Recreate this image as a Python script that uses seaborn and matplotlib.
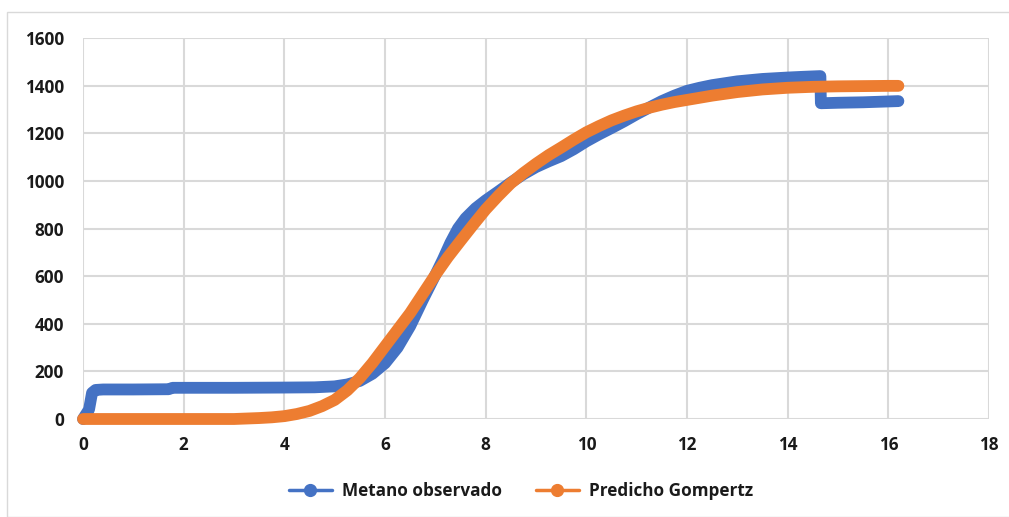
import matplotlib
matplotlib.use("Agg")
import matplotlib.pyplot as plt
from matplotlib.lines import Line2D
from matplotlib.patches import Rectangle
import seaborn as sns
import pandas as pd

# Observed methane (Metano observado)
obs_x = [0, 0.12, 0.18, 0.25, 0.4, 1.0, 1.7, 1.78, 3.0, 4.0, 4.6, 5.0, 5.25, 5.5, 5.75,
         6.0, 6.25, 6.5, 6.75, 7.0, 7.15, 7.3, 7.45, 7.6, 7.8, 8.0, 8.25, 8.5, 8.75, 9.0,
         9.25, 9.5, 9.75, 10.0, 10.25, 10.5, 10.75, 11.0, 11.25, 11.5, 11.75, 12.0,
         12.25, 12.5, 12.75, 13.0, 13.5, 14.0, 14.3, 14.65, 14.66, 15.0, 15.5, 16.2]
obs_y = [0, 40, 110, 122, 124, 124, 125, 131, 131, 132, 133, 137, 145, 160, 190,
         234, 300, 390, 500, 605, 670, 740, 800, 843, 885, 918, 955, 993, 1028, 1058,
         1082, 1104, 1133, 1166, 1195, 1222, 1250, 1280, 1308, 1335, 1358, 1378,
         1391, 1402, 1410, 1418, 1428, 1434, 1437, 1440, 1326, 1328, 1330, 1335]

# Gompertz prediction (Predicho Gompertz)
pred_x = [0, 1, 2, 3, 3.25, 3.5, 3.75, 4, 4.25, 4.5, 4.75, 5, 5.25, 5.5, 5.75, 6, 6.25,
          6.5, 6.75, 7, 7.25, 7.5, 7.75, 8, 8.25, 8.5, 8.75, 9, 9.25, 9.5, 9.75, 10,
          10.25, 10.5, 10.75, 11, 11.25, 11.5, 11.75, 12, 12.5, 13, 13.5, 14, 14.5, 15,
          15.5, 16, 16.2]
pred_y = [0, 0, 0, 0, 2, 4, 7, 12, 21, 34, 54, 80, 120, 172, 235, 305, 375,
          445, 525, 605, 680, 748, 815, 880, 937, 990, 1033, 1072, 1108, 1140, 1173, 1204,
          1230, 1254, 1274, 1292, 1307, 1320, 1331, 1340, 1358, 1373, 1384, 1391, 1395, 1397,
          1398, 1399, 1399]

x_ticks = [0, 2, 4, 6, 8, 10, 12, 14, 16, 18]
y_ticks = [0, 200, 400, 600, 800, 1000, 1200, 1400, 1600]

label_obs = "Metano observado"
label_pred = "Predicho Gompertz"
c_obs = "#4472C4"
c_pred = "#ED7D31"

sns.set_theme(style="white")
plt.rcParams['font.family'] = ['Open Sans', 'DejaVu Sans']

W, H = 1009, 517
fig = plt.figure(figsize=(W / 100, H / 100), dpi=100)
ax = fig.add_axes([83 / W, (H - 419) / H, (989 - 83) / W, (419 - 38) / H])

df_obs = pd.DataFrame({"x": obs_x, "y": obs_y})
df_pred = pd.DataFrame({"x": pred_x, "y": pred_y})

lw = 8.5
sns.lineplot(data=df_obs, x="x", y="y", ax=ax, color=c_obs, linewidth=lw,
             sort=False, estimator=None, solid_capstyle="round",
             solid_joinstyle="round", legend=False, zorder=3)
sns.lineplot(data=df_pred, x="x", y="y", ax=ax, color=c_pred, linewidth=lw,
             sort=False, estimator=None, solid_capstyle="round",
             solid_joinstyle="round", legend=False, zorder=4)

fs = 12.3
ax.set_xlim(0, 18)
ax.set_ylim(0, 1600)
ax.set_xticks(x_ticks)
ax.set_yticks(y_ticks)
ax.set_xticklabels([str(t) for t in x_ticks], fontsize=fs, fontweight="bold", color="#1a1a1a")
ax.set_yticklabels([str(t) for t in y_ticks], fontsize=fs, fontweight="bold", color="#1a1a1a")
ax.tick_params(axis="both", length=0)
ax.tick_params(axis="x", pad=12)
ax.tick_params(axis="y", pad=13.5)
ax.set_xlabel("")
ax.set_ylabel("")
ax.grid(True, color="#d9d9d9", linewidth=1.5, zorder=0)
ax.set_axisbelow(True)
for s in ax.spines.values():
    s.set_visible(False)
for line in ax.lines:
    line.set_clip_on(False)

handles = [
    Line2D([0], [0], color=c_obs, linewidth=2.5, marker="o", markersize=8.5),
    Line2D([0], [0], color=c_pred, linewidth=2.5, marker="o", markersize=8.5),
]
leg = fig.legend(handles, [label_obs, label_pred], loc="center",
                 bbox_to_anchor=(521 / W, (H - 491) / H), ncol=2, frameon=False,
                 prop={"size": fs, "weight": "bold"}, handlelength=2.5,
                 columnspacing=2.0, handletextpad=0.6)
for t in leg.get_texts():
    t.set_color("#1a1a1a")

fig.patches.append(Rectangle((7 / W, 0), 1.0, (H - 12) / H, transform=fig.transFigure,
                             fill=False, edgecolor="#d9d9d9", linewidth=1))

fig.savefig("out.png", dpi=100)
